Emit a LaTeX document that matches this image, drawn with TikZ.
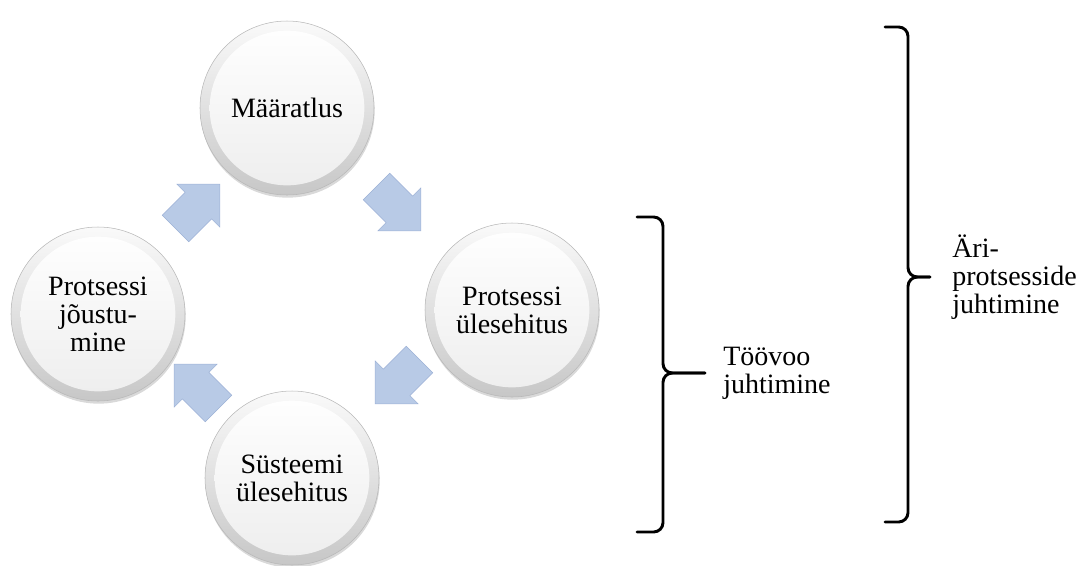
\documentclass[tikz,border=0pt]{standalone}
\usepackage{fontspec}
\setmainfont{Liberation Serif}
\usetikzlibrary{positioning,shapes.arrows,shadows}
\definecolor{arrowfill}{RGB}{184,202,230}
\definecolor{arrowedge}{RGB}{158,178,214}

\begin{document}
\begin{tikzpicture}[x=0.75pt,y=-0.75pt]
\tikzstyle{phase}=[circle, minimum size=130.5pt, inner sep=0pt, align=center, font=\fontsize{21}{21}\selectfont, draw=black!28, top color=black!2, bottom color=black!22, drop shadow={shadow xshift=0.5pt, shadow yshift=-2pt, opacity=0.3}, path picture={\shade[top color=white, bottom color=black!7] (path picture bounding box.center) circle (58pt);}]
\tikzstyle{flow}=[single arrow, draw=arrowedge, fill=arrowfill, minimum height=47pt, inner xsep=0pt, inner ysep=13.9pt, single arrow head extend=8.6pt, single arrow tip angle=90]
\tikzstyle{brace_line}=[line width=2.2pt, line cap=round]
\tikzstyle{side_text}=[align=left, inner sep=0pt, font=\fontsize{21}{21}\selectfont]
\useasboundingbox (0,0) rectangle (1084,565);

  \node[phase] (maaratlus) at (287,108) {Määratlus};
  \node[phase] (p_ylesehitus) at (512,310) {Protsessi\\ülesehitus};
  \node[phase] (s_ylesehitus) at (292,478) {Süsteemi\\ülesehitus};
  \node[phase] (joustumine) at (98,314) {Protsessi\\jõustu-\\mine};

  \node[flow, rotate=45] (flow_1) at (191,213) {};
  \node[flow, rotate=-45] (flow_2) at (392,202) {};
  \node[flow, rotate=-135] (flow_3) at (404,375) {};
  \node[flow, rotate=135] (flow_4) at (203,393) {};

\coordinate (toovoo_tip) at (705,373);
\coordinate (ari_tip) at (930,277);

\draw[brace_line, rounded corners=7pt] (637,217) -- (663,217) -- (663,373) -- (toovoo_tip);
\draw[brace_line, rounded corners=7pt] (toovoo_tip) -- (663,373) -- (663,532) -- (637,532);
\draw[brace_line, rounded corners=7pt] (885,27) -- (908,27) -- (908,277) -- (ari_tip);
\draw[brace_line, rounded corners=7pt] (ari_tip) -- (908,277) -- (908,522) -- (885,522);

  \node[side_text, right=13.5pt of toovoo_tip] (toovoo) {Töövoo\\juhtimine};
  \node[side_text, right=16.5pt of ari_tip] (ari) {Äri-\\protsesside\\juhtimine};
\end{tikzpicture}
\end{document}
